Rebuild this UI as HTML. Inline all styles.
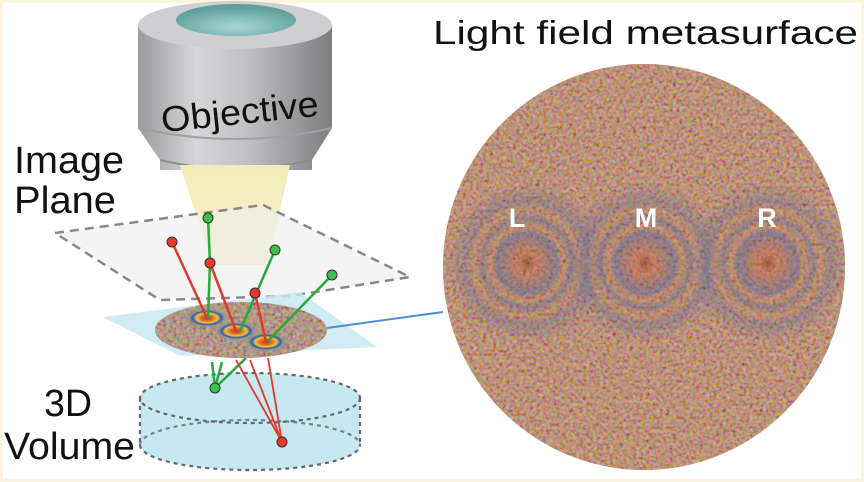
<!DOCTYPE html>
<html><head><meta charset="utf-8"><style>
html,body{margin:0;padding:0;background:#fff}
svg{display:block}
</style></head><body>
<svg width="864" height="482" viewBox="0 0 864 482" xmlns="http://www.w3.org/2000/svg">
<defs>
<linearGradient id="body" x1="0" x2="1" y1="0" y2="0">
<stop offset="0" stop-color="#9a9a9c"/><stop offset="0.3" stop-color="#d6d6d8"/><stop offset="0.55" stop-color="#c2c2c4"/><stop offset="1" stop-color="#7e7e80"/></linearGradient>
<radialGradient id="teal" cx="0.5" cy="0.7" r="0.6"><stop offset="0" stop-color="#a9d6d4"/><stop offset="1" stop-color="#5f9f9c"/></radialGradient>
<linearGradient id="cone" x1="0" x2="0" y1="0" y2="1"><stop offset="0" stop-color="#f3ecb8"/><stop offset="1" stop-color="#f7f1d0"/></linearGradient>
<filter id="noise" x="0" y="0" width="100%" height="100%">
<feTurbulence type="fractalNoise" baseFrequency="0.3" numOctaves="2" seed="4" result="t"/>
<feColorMatrix in="t" type="matrix" values="1.8 0 0 0 -0.2  0 1.5 0 0 -0.3  0 0 1.8 0 -0.5  0 0 0 0 1"/>
<feComposite in2="SourceGraphic" operator="in"/>
</filter>
<clipPath id="bigc"><ellipse cx="644" cy="267" rx="201" ry="203"/></clipPath>
<clipPath id="smc"><ellipse cx="241" cy="330" rx="86" ry="28"/></clipPath>
<radialGradient id="ring" cx="0.5" cy="0.5" r="0.5">
<stop offset="0" stop-color="#b0401e"/><stop offset="0.25" stop-color="#e06a2a"/><stop offset="0.45" stop-color="#e8c640"/><stop offset="0.6" stop-color="#2f56b0"/><stop offset="0.75" stop-color="#8a9a8a" stop-opacity="0.5"/><stop offset="1" stop-color="#8a9a8a" stop-opacity="0"/></radialGradient>
<radialGradient id="bring" cx="0.5" cy="0.5" r="0.5">
<stop offset="0" stop-color="#6a2a18" stop-opacity="0.55"/><stop offset="0.12" stop-color="#d05a30" stop-opacity="0.35"/><stop offset="0.38" stop-color="#3a5aa8" stop-opacity="0.4"/><stop offset="0.46" stop-color="#c88040" stop-opacity="0.2"/><stop offset="0.56" stop-color="#3a5aa8" stop-opacity="0.35"/><stop offset="0.66" stop-color="#c88040" stop-opacity="0.15"/><stop offset="0.76" stop-color="#3a5aa8" stop-opacity="0.25"/><stop offset="1" stop-color="#3a5aa8" stop-opacity="0"/></radialGradient>
</defs>
<rect x="0" y="0" width="864" height="482" fill="#fcf4dc"/>
<rect x="3" y="3" width="858" height="476" fill="#fff"/>

<ellipse cx="644" cy="267" rx="201" ry="203" fill="#a0704f"/>
<rect x="440" y="60" width="410" height="415" fill="#000" clip-path="url(#bigc)" filter="url(#noise)" opacity="0.5"/>
<g clip-path="url(#bigc)">
<ellipse cx="527" cy="263" rx="80" ry="80" fill="url(#bring)"/>
<ellipse cx="645" cy="263" rx="80" ry="80" fill="url(#bring)"/>
<ellipse cx="768" cy="263" rx="80" ry="80" fill="url(#bring)"/>
</g>
<g font-family="Liberation Sans, sans-serif" font-weight="bold" font-size="27" fill="#fff" text-anchor="middle">
<text x="517" y="227">L</text><text x="646" y="227">M</text><text x="767" y="227">R</text></g>
<text x="433" y="44" font-family="Liberation Sans, sans-serif" font-size="33" textLength="425" lengthAdjust="spacingAndGlyphs" fill="#111">Light field metasurface</text>

<path d="M138 25 L138 128 L160 160 L160 170 L312 170 L312 160 L332 128 L332 25 Z" fill="url(#body)"/>
<path d="M160 160 Q236 178 312 160" fill="none" stroke="#8c8c8e" stroke-width="2"/>
<path d="M138 128 Q236 150 332 128" fill="none" stroke="#a0a0a2" stroke-width="2"/>
<ellipse cx="235" cy="25" rx="97" ry="24" fill="#cfcfd1"/>
<ellipse cx="236" cy="20" rx="60" ry="16" fill="url(#teal)"/>
<text x="160" y="124" font-family="Liberation Sans, sans-serif" font-size="36" textLength="158" lengthAdjust="spacingAndGlyphs" fill="#111" transform="rotate(-6 240 105)">Objective</text>
<path d="M180 165 L290 165 L268 265 L212 265 Z" fill="url(#cone)"/>

<path d="M55 233 L263 205 L410 277 L290 296 L160 300 Z" fill="#ececec" fill-opacity="0.6" stroke="#888" stroke-width="2.5" stroke-dasharray="9 6"/>
<text x="14" y="173" font-family="Liberation Sans, sans-serif" font-size="38" textLength="110" lengthAdjust="spacingAndGlyphs" fill="#111">Image</text>
<text x="14" y="213" font-family="Liberation Sans, sans-serif" font-size="38" textLength="102" lengthAdjust="spacingAndGlyphs" fill="#111">Plane</text>

<path d="M103 317 L300 292 L377 347 L180 356 Z" fill="#c9e7f0" fill-opacity="0.85"/>
<ellipse cx="241" cy="330" rx="86" ry="28" fill="#8d7a68"/>
<rect x="150" y="300" width="180" height="60" fill="#000" clip-path="url(#smc)" filter="url(#noise)" opacity="0.5"/>
<ellipse cx="207" cy="318" rx="24" ry="11" fill="url(#ring)"/>
<ellipse cx="236" cy="331" rx="24" ry="11" fill="url(#ring)"/>
<ellipse cx="266" cy="342" rx="24" ry="11" fill="url(#ring)"/>
<line x1="327" y1="328" x2="443" y2="312" stroke="#4a8fd8" stroke-width="2"/>

<path d="M140 398 L140 445 A110 25 0 0 0 360 445 L360 398 A110 25 0 0 0 140 398 Z" fill="#bfe5f0" fill-opacity="0.9"/>
<g fill="none" stroke="#666" stroke-width="2.2" stroke-dasharray="4 4">
<ellipse cx="250" cy="398" rx="110" ry="25"/>
<path d="M140 445 A110 25 0 0 0 360 445"/>
<path d="M140 445 A110 25 0 0 1 360 445" opacity="0.8"/>
<line x1="140" y1="398" x2="140" y2="445"/><line x1="360" y1="398" x2="360" y2="445"/>
</g>
<text x="44" y="416" font-family="Liberation Sans, sans-serif" font-size="38" textLength="48" lengthAdjust="spacingAndGlyphs" fill="#111">3D</text>
<text x="4" y="459" font-family="Liberation Sans, sans-serif" font-size="38" textLength="131" lengthAdjust="spacingAndGlyphs" fill="#111">Volume</text>

<g stroke-width="2.5" fill="none">
<line x1="172" y1="242" x2="207" y2="318" stroke="#e03a2a"/>
<polyline points="208,218 210,263 208,318" stroke="#2aa83a"/>
<line x1="210" y1="263" x2="236" y2="331" stroke="#e03a2a"/>
<line x1="275" y1="250" x2="240" y2="331" stroke="#2aa83a"/>
<line x1="255" y1="293" x2="266" y2="342" stroke="#e03a2a"/>
<line x1="332" y1="275" x2="268" y2="341" stroke="#2aa83a"/>
<line x1="215" y1="388" x2="212" y2="362" stroke="#2aa83a"/>
<line x1="215" y1="388" x2="222" y2="362" stroke="#2aa83a"/>
<line x1="215" y1="388" x2="246" y2="358" stroke="#2aa83a"/>
<line x1="282" y1="442" x2="236" y2="360" stroke="#e03a2a" stroke-width="1.8"/>
<line x1="282" y1="442" x2="250" y2="360" stroke="#e03a2a" stroke-width="1.8"/>
<line x1="282" y1="442" x2="268" y2="358" stroke="#e03a2a" stroke-width="1.8"/>
</g>
<g stroke="#333" stroke-width="1">
<circle cx="208" cy="218" r="5" fill="#3cc04a"/><circle cx="275" cy="250" r="5" fill="#3cc04a"/>
<circle cx="332" cy="275" r="5" fill="#3cc04a"/><circle cx="215" cy="388" r="5" fill="#3cc04a"/>
<circle cx="172" cy="242" r="5" fill="#e83a2a"/><circle cx="210" cy="263" r="5" fill="#e83a2a"/>
<circle cx="255" cy="293" r="5" fill="#e83a2a"/><circle cx="282" cy="442" r="5" fill="#e83a2a"/>
</g>
</svg>
</body></html>
